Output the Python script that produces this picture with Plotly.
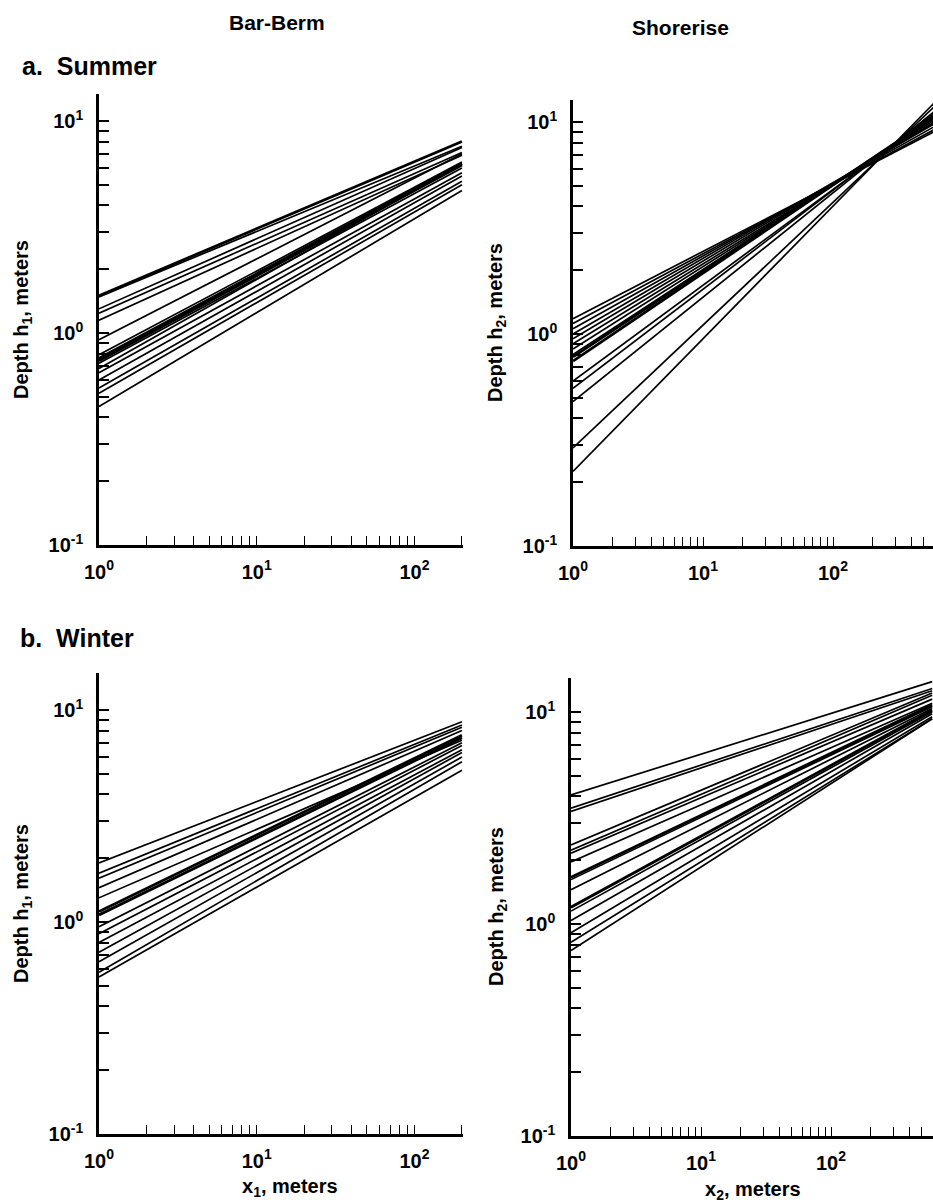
import math
import plotly.graph_objects as go

W, H = 933, 1203

# ---------------- data (depth h at x = 1 m and at the right end of each panel) -------------
bb_summer_x_end = 200
bb_summer_start = [1.50, 1.48, 1.30, 1.24, 1.15, 0.93, 0.79, 0.76, 0.74, 0.72, 0.68, 0.65, 0.60, 0.55, 0.52, 0.45]
bb_summer_end   = [8.0, 7.6, 7.5, 7.1, 6.9, 7.0, 6.4, 6.3, 6.2, 6.0, 6.3, 5.7, 5.5, 5.2, 5.0, 4.7]

sr_summer_x_end = 600
sr_summer_start = [1.18, 1.12, 1.06, 1.00, 0.95, 0.90, 0.85, 0.80, 0.78, 0.745, 0.60, 0.555, 0.48, 0.29, 0.225]
sr_summer_end   = [9.0, 9.2, 9.5, 9.8, 9.9, 10.0, 10.2, 10.4, 10.5, 10.6, 10.8, 11.0, 11.2, 11.8, 12.3]

bb_winter_x_end = 200
bb_winter_start = [1.90, 1.70, 1.61, 1.45, 1.30, 1.12, 1.08, 0.95, 0.88, 0.80, 0.72, 0.65, 0.58, 0.55]
bb_winter_end   = [8.8, 8.5, 8.3, 8.0, 7.2, 7.6, 7.4, 7.0, 6.8, 6.5, 6.3, 6.0, 5.7, 5.2]

sr_winter_x_end = 600
sr_winter_start = [4.06, 3.52, 3.40, 2.36, 2.23, 2.16, 1.96, 1.66, 1.62, 1.45, 1.20, 1.15, 1.04, 0.91, 0.82, 0.75]
sr_winter_end   = [13.9, 12.9, 12.6, 12.3, 12.0, 11.5, 11.0, 10.8, 10.6, 10.4, 10.2, 10.0, 9.8, 9.5, 9.3, 9.3]

col_titles = ["Bar-Berm", "Shorerise"]
row_titles = ["a.  Summer", "b.  Winter"]
y_titles = ["Depth h<sub>1</sub>, meters", "Depth h<sub>2</sub>, meters"]
x_titles = ["x<sub>1</sub>, meters", "x<sub>2</sub>, meters"]

# heavy (overlapping) lines drawn thicker - style only
heavy = {0: [0, 7, 8], 1: [8, 9], 2: [5, 6], 3: [7, 10]}

# ---------------- layout geometry (pixels) ----------------
panels = [
    dict(x0=99, x1=463, yb=545, yt=94, xdec=158),
    dict(x0=573, x1=933, yb=546, yt=100, xdec=130),
    dict(x0=99, x1=463, yb=1134, yt=673, xdec=158),
    dict(x0=571, x1=933, yb=1136, yt=678, xdec=130),
]
YDEC = 212

datasets = [
    (bb_summer_start, bb_summer_end, bb_summer_x_end),
    (sr_summer_start, sr_summer_end, sr_summer_x_end),
    (bb_winter_start, bb_winter_end, bb_winter_x_end),
    (sr_winter_start, sr_winter_end, sr_winter_x_end),
]

FONT = "Liberation Sans, Arial, Helvetica, sans-serif"

def tick_setup(emin, emax, labelled):
    vals, txt = [], []
    for e in range(emin, emax + 1):
        for m in range(1, 10):
            vals.append(m * 10 ** e)
            if m == 1 and e in labelled:
                txt.append("<b>10<sup>%d</sup></b>" % e)
            else:
                txt.append("")
    return vals, txt

fig = go.Figure()
layout = {}

for i, (p, (st, en, xe)) in enumerate(zip(panels, datasets)):
    sfx = "" if i == 0 else str(i + 1)
    xa, ya = "x" + sfx, "y" + sfx
    for j, (a, b) in enumerate(zip(st, en)):
        fig.add_trace(go.Scatter(
            x=[1, xe], y=[a, b], mode="lines",
            line=dict(color="black", width=2.8 if j in heavy[i] else 1.7),
            xaxis=xa, yaxis=ya, showlegend=False, hoverinfo="skip"))
    xmax = (p["x1"] - p["x0"]) / p["xdec"]
    if p["x1"] < W:
        xmax += 0.004
    ymax = -1 + (p["yb"] - p["yt"]) / YDEC
    xv, xt = tick_setup(0, 2, [0, 1, 2])
    yv, yt = tick_setup(-1, 1, [-1, 0, 1])
    layout["xaxis" + sfx] = dict(
        type="log", range=[0, xmax], domain=[p["x0"] / W, min(p["x1"] / W, 1.0)],
        anchor=ya, showline=True, linecolor="black", linewidth=2.5, automargin=False,
        showgrid=False, zeroline=False, ticks="inside", ticklen=9, tickwidth=1.3,
        tickcolor="black", tickvals=xv, ticktext=xt, ticklabelstandoff=7,
        tickfont=dict(family=FONT, size=20, color="black"))
    layout["yaxis" + sfx] = dict(
        type="log", range=[-1, ymax], domain=[1 - p["yb"] / H, 1 - p["yt"] / H],
        anchor=xa, showline=True, linecolor="black", linewidth=2.5, automargin=False,
        showgrid=False, zeroline=False, ticks="inside", ticklen=10, tickwidth=1.6,
        tickcolor="black", tickvals=yv, ticktext=yt, ticklabelstandoff=9,
        tickfont=dict(family=FONT, size=20, color="black"))

annotations = []
def ann(text, x, y, size, angle=0):
    annotations.append(dict(text="<b>%s</b>" % text, x=x / W, y=1 - y / H,
                            xref="paper", yref="paper", showarrow=False,
                            xanchor="center", yanchor="middle", textangle=angle,
                            font=dict(family=FONT, size=size, color="black")))

ann(col_titles[0], 277, 22, 21)
ann(col_titles[1], 680, 27, 21)
annotations.append(dict(text="<b>%s</b>" % row_titles[0], x=20 / W, y=1 - 66 / H,
                        xref="paper", yref="paper", showarrow=False, xanchor="left",
                        yanchor="middle", font=dict(family=FONT, size=25, color="black")))
annotations.append(dict(text="<b>%s</b>" % row_titles[1], x=18 / W, y=1 - 638 / H,
                        xref="paper", yref="paper", showarrow=False, xanchor="left",
                        yanchor="middle", font=dict(family=FONT, size=25, color="black")))
ann(y_titles[0], 22, 320, 20, -90)
ann(y_titles[1], 497, 323, 20, -90)
ann(y_titles[0], 22, 904, 20, -90)
ann(y_titles[1], 497, 907, 20, -90)
ann(x_titles[0], 290, 1187, 20)
ann(x_titles[1], 753, 1190, 20)

fig.update_layout(width=W, height=H, margin=dict(l=0, r=0, t=0, b=0, autoexpand=False),
                  paper_bgcolor="white", plot_bgcolor="white",
                  annotations=annotations, **layout)

fig.write_html("out.html")
